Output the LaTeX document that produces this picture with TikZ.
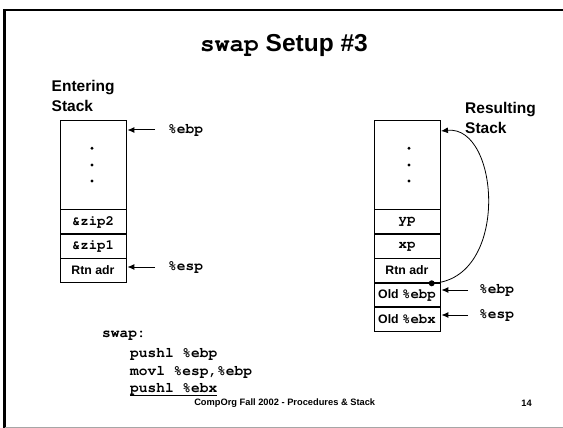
\documentclass[tikz,border=0pt]{standalone}
\usepackage{fontspec}
\setmainfont{Liberation Sans}
\usetikzlibrary{arrows.meta}
% Courier (URW Nimbus Mono) through NFSS for the code font
\newcommand\cour{\fontencoding{T1}\fontfamily{pcr}\selectfont}
\newcommand\ct[1]{{\cour\bfseries\fontsize{14}{14}\selectfont #1}}
\begin{document}
\begin{tikzpicture}[x=1pt,y=-1pt,
  cell/.style={draw,line width=0.8pt,minimum width=66pt,minimum height=23.67pt,inner sep=0pt,font=\bfseries\fontsize{12.3}{13}\selectfont},
  topcell/.style={cell,minimum height=88.3pt},
  reg/.style={font=\cour\bfseries\fontsize{14.5}{15}\selectfont,inner sep=1pt},
  arr/.style={line width=1pt,-{Latex[length=7pt,width=6pt]}},
  head/.style={font=\bfseries\fontsize{15.5}{20}\selectfont,align=left,inner sep=0pt},
  code/.style={font=\cour\bfseries\fontsize{14.5}{15}\selectfont,anchor=west,inner sep=0pt}]
\useasboundingbox (0,0) rectangle (563,428);
% slide frame
\draw[line width=2.5pt] (4.5,428) -- (4.5,10) -- (563,10);
\draw[gray!70,line width=1.5pt] (4.5,427.3) -- (563,427.3);

% title
\node[anchor=base,inner sep=0pt] (title) at (284,51.5) {\fontsize{24.5}{26}\selectfont\bfseries{\cour\bfseries swap} Setup \#3};

% stack headings
\node[head,anchor=west] (enter) at (51.5,95.5) {Entering\\Stack};
\node[head,anchor=west] (result) at (465,117.5) {Resulting\\Stack};

% entering stack
\node[topcell] (ltop) at (93,164.85) {};
\node[cell,anchor=north] (lzip2) at (ltop.south) {\ct{\&zip2}};
\node[cell,anchor=north] (lzip1) at (lzip2.south) {\ct{\&zip1}};
\node[cell,anchor=north] (lrtn) at (lzip1.south) {Rtn adr};
\foreach \yy in {148.3,165,181}
  \fill (92,\yy) circle (1.6pt);

% resulting stack
\node[topcell] (rtop) at (407,164.85) {};
\node[cell,anchor=north] (ryp) at (rtop.south) {\ct{yp}};
\node[cell,anchor=north] (rxp) at (ryp.south) {\ct{xp}};
\node[cell,anchor=north] (rrtn) at (rxp.south) {Rtn adr};
\node[cell,anchor=north] (rebp) at (rrtn.south) {Old \ct{\%ebp}};
\node[cell,anchor=north] (rebx) at (rebp.south) {Old \ct{\%ebx}};
\foreach \yy in {148.3,165,181}
  \fill (409,\yy) circle (1.6pt);

% register labels and pointers
\node[reg,anchor=west] (lebpl) at (167,130) {\%ebp};
\node[reg,anchor=west] (lespl) at (167,267) {\%esp};
\node[reg,anchor=west] (rebpl) at (478,290) {\%ebp};
\node[reg,anchor=west] (respl) at (478,315) {\%esp};
\draw[arr] ([xshift=-12pt]lebpl.west) -- ([xshift=1pt]ltop.east |- lebpl.west);
\draw[arr] ([xshift=-12pt]lespl.west) -- ([xshift=1pt]lrtn.east |- lespl.west);
\draw[arr] ([xshift=-10pt]rebpl.west) -- ([xshift=1pt]rebp.east |- rebpl.west);
\draw[arr] ([xshift=-10pt]respl.west) -- ([xshift=1pt]rebx.east |- respl.west);

% saved frame pointer link
\coordinate (saved) at (431.7,283.3);
\coordinate (oldtop) at (441,131);
\fill (saved) circle (3pt);
\draw[line width=0.8pt,-{Latex[length=7pt,width=6pt]}] (saved) .. controls (510,280) and (500,125) .. (oldtop);

% code
\node[code] (c0) at (102,335.7) {swap:};
\node[code] (c1) at (130,354.3) {pushl \%ebp};
\node[code] (c2) at (130,371.7) {movl \%esp,\%ebp};
\node[code] (c3) at (130,389) {pushl \%ebx};
\draw[line width=1.2pt] ([yshift=-0.5pt]c3.south west) -- ([yshift=-0.5pt]c3.south east);

% footer
\node[font=\bfseries\fontsize{9.3}{10}\selectfont] (foot) at (284.7,402.7) {CompOrg Fall 2002 - Procedures \& Stack};
\node[font=\bfseries\fontsize{9.3}{10}\selectfont] (page) at (526.5,403.3) {14};
\end{tikzpicture}
\end{document}
